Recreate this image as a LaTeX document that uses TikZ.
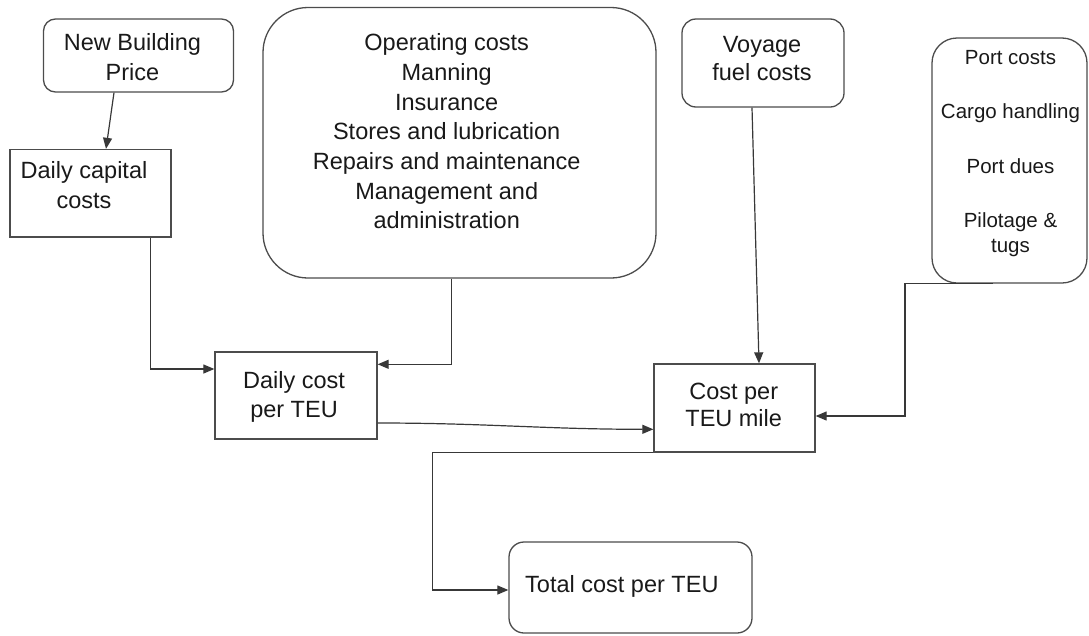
\documentclass[tikz,border=0pt]{standalone}
\usepackage{fontspec}
\setmainfont{Liberation Sans}
\usetikzlibrary{arrows.meta,calc}
\begin{document}
\begin{tikzpicture}[x=1pt,y=-1pt,
  box/.style={draw=black!70, line width=1.3pt, rectangle, inner sep=0pt},
  rbox/.style={box, rounded corners=#1},
  txt/.style={inner sep=0pt, align=center, text=black!90, font=\fontsize{23.5}{29.7}\selectfont},
  ptxt/.style={inner sep=0pt, align=center, text=black!90, font=\fontsize{20.5}{25.3}\selectfont},
  arr/.style={draw=black!78, line width=1.2pt, -{Triangle[length=11pt,width=9pt]}}]
\useasboundingbox (0,0) rectangle (1089,635);

% boxes
\node[rbox=12pt, minimum width=190pt, minimum height=73pt] (nbp) at (138.5,55.5) {};
\node[box, minimum width=161pt, minimum height=87.5pt] (dcc) at (90.5,193.25) {};
\node[rbox=45pt, minimum width=393pt, minimum height=270.5pt] (ops) at (459.5,142.75) {};
\node[rbox=14pt, minimum width=162pt, minimum height=88pt] (vfc) at (763,63) {};
\node[rbox=25pt, minimum width=155pt, minimum height=245pt] (port) at (1009.5,160.5) {};
\node[box, minimum width=162pt, minimum height=87pt] (dct) at (296,395.5) {};
\node[box, minimum width=161pt, minimum height=88pt] (cpm) at (734.5,408) {};
\node[rbox=15pt, minimum width=243pt, minimum height=91pt] (total) at (630.5,587.5) {};

% texts
\node[txt, anchor=north] (nbpT) at (132.5,33.2) {New Building\\Price};
\node[txt, anchor=north] (dccT) at (84,161.2) {Daily capital\\costs};
\node[txt, anchor=north] (opsT) at (446.7,33.4) {Operating costs\\Manning\\Insurance\\Stores and lubrication\\Repairs and maintenance\\Management and\\administration};
\node[txt, anchor=north, font=\fontsize{23.5}{28}\selectfont] (vfcT) at (762,36.2) {Voyage\\fuel costs};
\node[ptxt, anchor=north] (portT) at (1010.5,50.3) {Port costs\\[29pt]Cargo handling\\[29pt]Port dues\\[29pt]Pilotage \&\\tugs};
\node[txt, anchor=north, font=\fontsize{23.5}{28.7}\selectfont] (dctT) at (294,371.2) {Daily cost\\per TEU};
\node[txt, anchor=north, font=\fontsize{23.5}{27}\selectfont] (cpmT) at (733.7,382.9) {Cost per\\TEU mile};
\node[txt, anchor=base west] (totalT) at (525,592.7) {Total cost per TEU};

% connectors
\draw[arr] ($(nbp.south)+(-24.5,0)$) -- ($(dcc.north)+(15.5,0)$);
\draw[arr] ($(dcc.south)+(60.2,0)$) |- ($(dct.west)+(0,-26.5)$);
\draw[arr] ($(ops.south)+(-7.8,0)$) |- ($(dct.east)+(0,-31.2)$);
\draw[arr] ($(dct.east)+(0,27.5)$) to[out=0,in=180] ($(cpm.west)+(0,21.3)$);
\draw[arr] ($(vfc.south)+(-11,0)$) -- ($(cpm.north)+(24.5,0)$);
\draw[arr] ($(port.south)+(-16.5,0)$) -- ++(-88,0) |- ($(cpm.east)+(0,8)$);
\draw[arr] (cpm.south west) -- ++(-221,0) |- ($(total.west)+(0,2.5)$);
\end{tikzpicture}
\end{document}
